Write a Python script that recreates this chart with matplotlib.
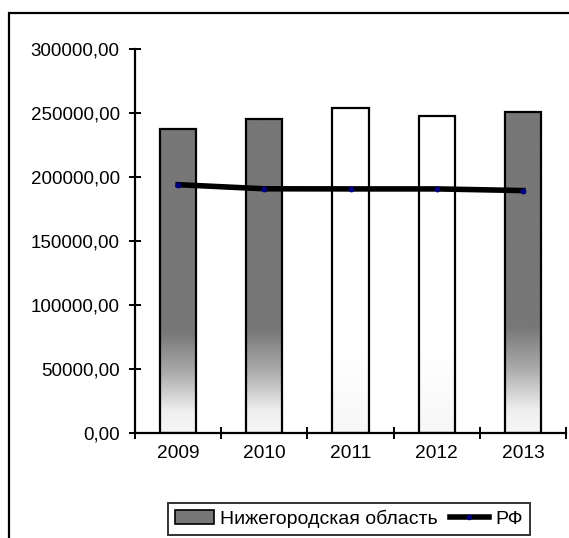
import numpy as np
import matplotlib
matplotlib.use('Agg')
import matplotlib.pyplot as plt
from matplotlib.patches import Rectangle, Patch
from matplotlib.lines import Line2D
from matplotlib.colors import LinearSegmentedColormap
from matplotlib.ticker import FuncFormatter

plt.rcParams['font.family'] = ['Liberation Sans', 'DejaVu Sans']

# data
years = ['2009', '2010', '2011', '2012', '2013']
region_values = [237300, 245300, 253700, 247900, 251000]
rf_values = [194000, 190800, 190700, 190700, 189400]
gradient_bar = [True, True, False, False, True]

fig = plt.figure(figsize=(5.69, 5.38), dpi=100)
ax = fig.add_axes([0.2373, 0.1952, 0.7574, 0.7137])

x = np.arange(len(years))
bar_w = 0.42

# gray on top, fading to white at the bottom
fade = LinearSegmentedColormap.from_list(
    'fade', [(0.0, '#f6f6f6'), (0.07, '#efefef'), (0.2, '#aaaaaa'),
             (0.33, '#777777'), (1.0, '#777777')])
white_fade = LinearSegmentedColormap.from_list(
    'wfade', [(0.0, '#f7f7f7'), (0.25, '#ffffff'), (1.0, '#ffffff')])
grad = np.linspace(0, 1, 256).reshape(-1, 1)

bars = ax.bar(x, region_values, width=bar_w, facecolor='none',
              edgecolor='black', linewidth=1.6, zorder=3)
for b, g in zip(bars, gradient_bar):
    x0 = b.get_x()
    h = b.get_height()
    im = ax.imshow(grad, cmap=fade if g else white_fade, aspect='auto', origin='lower',
                   extent=[x0, x0 + bar_w, 0, h], zorder=2, interpolation='bilinear')
    im.set_clip_path(b)

ax.plot(x, rf_values, color='black', linewidth=4, zorder=4)
ax.plot(x, rf_values, linestyle='none', marker='o', markersize=3.2,
        color='#000080', zorder=5)

ax.set_xlim(-0.5, len(years) - 0.5)
ax.set_ylim(0, 300000)
ax.set_yticks(np.arange(0, 300001, 50000))
ax.yaxis.set_major_formatter(FuncFormatter(lambda v, p: f'{v:.2f}'.replace('.', ',')))

# ticks at category boundaries, labels at the centres
ax.set_xticks(np.arange(-0.5, len(years), 1.0))
ax.set_xticklabels([])
ax.set_xticks(x, minor=True)
ax.set_xticklabels(years, minor=True)
ax.tick_params(axis='x', which='major', direction='inout', length=9, width=1.4)
ax.tick_params(axis='x', which='minor', length=0, pad=9, labelsize=13.8)
ax.tick_params(axis='y', direction='inout', length=8, width=1.4, pad=7, labelsize=13.5)

for s in ['top', 'right']:
    ax.spines[s].set_visible(False)
for s in ['left', 'bottom']:
    ax.spines[s].set_linewidth(1.6)
ax.set_facecolor('white')

handles = [Patch(facecolor='#777777', edgecolor='black', linewidth=1.2),
           Line2D([0], [0], color='black', linewidth=4, marker='o',
                  markersize=3, markerfacecolor='#000080', markeredgecolor='#000080')]
leg = fig.legend(handles, ['Нижегородская область', 'РФ'], loc='center',
                 bbox_to_anchor=(0.613, 0.036), ncol=2, fontsize=14,
                 frameon=True, fancybox=False, handlelength=2.0, handleheight=0.7,
                 handletextpad=0.35, columnspacing=0.6, borderpad=0.35,
                 borderaxespad=0)
leg.get_frame().set_edgecolor('black')
leg.get_frame().set_linewidth(1.4)

# outer chart frame (cut off at right and bottom)
fig.patches.append(Rectangle((9 / 569, -0.1), 1.2, 1 - 13 / 538 + 0.1,
                             transform=fig.transFigure, fill=False,
                             edgecolor='black', linewidth=1.6))

fig.savefig('out.png', dpi=100)
